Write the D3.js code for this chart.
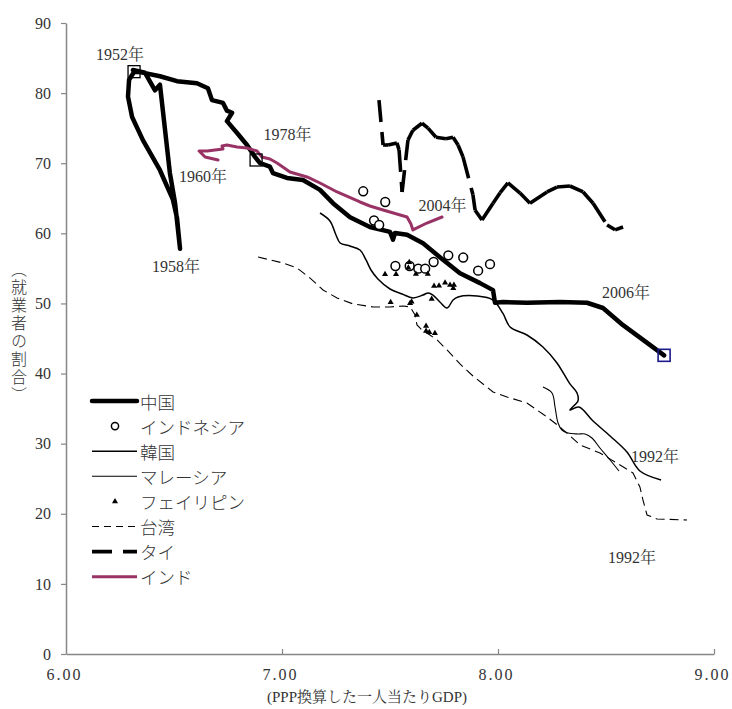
<!DOCTYPE html>
<html><head><meta charset="utf-8">
<script src="https://cdn.jsdelivr.net/npm/d3@7"></script>
<style>
body{margin:0;background:#fff}
svg{display:block;background:#fff}
text{font-family:"Liberation Serif","Noto Serif CJK JP","Noto Sans CJK JP",serif;fill:#333}
</style>
</head><body>
<svg id="c" width="732" height="709"></svg>
<script>
// ---------- data ----------
const xTicks = [6, 7, 8, 9];
const yTicks = [0, 10, 20, 30, 40, 50, 60, 70, 80, 90];
const xTitle = "(PPP換算した一人当たりGDP)";
const yTitle = "︵就業者の割合︶";
const seriesNames = ["中国", "インドネシア", "韓国", "マレーシア", "フェイリピン", "台湾", "タイ", "インド"];

const china = [[6.31,83.3],[6.366,82.9],[6.412,80.4],[6.435,81.2],[6.481,68.6],[6.505,64.3],[6.528,57.8],
  [6.514,62.2],[6.495,64.8],[6.435,69.0],[6.356,73.3],[6.306,76.6],[6.287,79.5],[6.292,81.9],[6.315,83.0],
  [6.343,83.0],[6.435,82.4],[6.514,81.7],[6.606,81.4],[6.657,80.7],[6.676,79.0],[6.727,78.6],[6.745,77.5],
  [6.769,77.2],[6.745,76.0],[6.792,74.3],[6.838,72.6],[6.875,70.9],[6.898,70.0],[6.944,69.5],[6.958,68.6],
  [7.023,67.9],[7.097,67.6],[7.176,66.2],[7.236,64.3],[7.315,62.3],[7.407,60.9],[7.5,60.2],[7.514,59.1],
  [7.523,60.05],[7.579,59.8],[7.653,58.6],[7.731,56.6],[7.824,54.3],[7.917,52.9],[7.977,51.9],[7.986,50.1],
  [8.023,50.2],[8.134,50.1],[8.287,50.2],[8.412,50.1],[8.486,49.35],[8.579,46.9],[8.769,42.6]];
const chinaMarks = [[6.315,83.06],[6.88,70.46]];
const chinaEnd = [[8.769,42.6]];

const indonesia = [[7.376,66.0],[7.478,64.47],[7.426,61.83],[7.45,61.19],[7.525,55.34],[7.591,55.34],
  [7.631,54.96],[7.663,54.96],[7.702,55.91],[7.77,56.87],[7.839,56.55],[7.908,54.67],[7.963,55.6]];

const korea = [[7.176,62.9],[7.222,61.76],[7.25,59.76],[7.269,58.62],[7.315,58.19],[7.361,57.62],[7.389,56.2],
  [7.412,54.77],[7.444,53.49],[7.5,52.06],[7.556,51.35],[7.606,50.78],[7.653,51.2],[7.676,51.49],[7.699,51.2],
  [7.731,50.21],[7.764,49.35],[7.792,50.49],[7.815,50.92],[7.903,51.06],[7.977,50.49],[8.023,48.57],
  [8.056,46.64],[8.134,45.5],[8.208,43.79],[8.273,41.51],[8.333,38.52],[8.366,37.23],[8.37,36.09],
  [8.333,34.8],[8.375,35.23],[8.44,33.23],[8.519,31.09],[8.597,28.81],[8.657,26.1],[8.755,24.82]];

const malaysia = [[8.208,38.08],[8.25,37.23],[8.264,35.23],[8.278,32.95],[8.296,31.95],[8.324,31.52],
  [8.37,31.38],[8.403,31.38],[8.435,30.81],[8.472,29.38],[8.519,27.67],[8.56,26.1]];

const philippines = [[7.477,54.16],[7.528,54.16],[7.589,55.87],[7.585,55.1],[7.62,54.2],[7.675,54.2],
  [7.704,52.49],[7.727,52.53],[7.755,52.96],[7.778,52.63],[7.796,52.63],[7.793,52.16],[7.693,50.63],
  [7.6,50.25],[7.593,50.02],[7.503,50.16],[7.624,48.35],[7.667,46.78],[7.667,46.07],[7.682,45.89],[7.708,45.74]];

const taiwan = [[6.889,56.62],[7.005,55.77],[7.069,55.06],[7.13,53.62],[7.19,51.92],[7.255,50.78],[7.329,49.93],
  [7.421,49.5],[7.5,49.5],[7.56,49.64],[7.593,49.5],[7.616,48.36],[7.625,46.93],[7.648,46.21],[7.685,45.5],
  [7.718,44.79],[7.764,43.37],[7.824,41.37],[7.884,39.65],[7.977,37.37],[8.042,36.66],[8.134,35.8],
  [8.227,33.8],[8.287,32.38],[8.38,29.81],[8.472,28.67],[8.565,26.96],[8.625,25.82],[8.657,23.82],
  [8.671,21.97],[8.69,19.83],[8.736,19.26],[8.875,19.11]];

const thailand = [[7.449,79.0],[7.468,72.6],[7.491,72.6],[7.532,72.9],[7.542,71.9],[7.556,65.9],[7.583,73.3],
  [7.606,74.7],[7.648,75.7],[7.676,75.0],[7.713,73.7],[7.759,73.5],[7.792,73.7],[7.815,72.6],[7.838,70.9],
  [7.884,65.5],[7.894,63.3],[7.926,61.9],[7.977,64.3],[8.01,65.8],[8.046,67.2],[8.102,65.75],[8.148,64.3],
  [8.227,65.9],[8.273,66.6],[8.333,66.75],[8.394,65.9],[8.44,64.3],[8.505,61.2],[8.542,60.5],[8.579,60.9]];

const india = [[6.704,70.46],[6.644,70.89],[6.616,71.74],[6.653,71.74],[6.727,72.03],[6.722,72.46],[6.745,72.6],
  [6.792,72.32],[6.838,72.17],[6.884,71.74],[6.907,70.89],[6.944,70.6],[6.977,70.03],[7.037,68.75],[7.116,68.04],
  [7.176,67.18],[7.255,65.9],[7.361,64.47],[7.407,63.9],[7.468,63.33],[7.579,62.33],[7.597,61.33],[7.606,60.48],
  [7.671,61.47],[7.741,62.33]];

const yearLabels = [
  ["1952年", 6.25, 85.5], ["1958年", 6.509, 55.24], ["1960年", 6.634, 68.08], ["1978年", 7.025, 74.03],
  ["2004年", 7.743, 64.04], ["2006年", 8.593, 51.59], ["1992年", 8.727, 28.14], ["1992年", 8.62, 13.7]];

// ---------- chart ----------
const svg = d3.select("#c");
const x = d3.scaleLinear().domain([6, 9]).range([66, 714]);
const y = d3.scaleLinear().domain([0, 90]).range([654, 23]);
const axisColor = "#868686";

// y axis
const ya = svg.append("g").attr("transform", "translate(66,0)")
  .call(d3.axisLeft(y).tickValues(yTicks).tickSize(5).tickPadding(10).tickSizeOuter(0).tickFormat(d3.format("d")));
// x axis
const xa = svg.append("g").attr("transform", "translate(0,654)")
  .call(d3.axisBottom(x).tickValues(xTicks).tickSize(-5).tickPadding(15).tickSizeOuter(0).tickFormat(d3.format(".2f")));
[ya, xa].forEach(a => {
  a.select(".domain").attr("stroke", axisColor).attr("stroke-width", 1.5);
  a.selectAll(".tick line").attr("stroke", axisColor).attr("stroke-width", 1.2);
  a.selectAll(".tick text").attr("fill", "#333").style("font-size", "16px")
    .style("font-family", "'Liberation Serif',serif");
});
xa.selectAll(".tick text").style("letter-spacing", "2px").attr("dx", "-2");
xa.selectAll(".tick").filter(d => d === 6).select("line").remove();

// axis titles
svg.append("text").attr("x", 367).attr("y", 702).attr("text-anchor", "middle")
  .style("font-size", "15px").text(xTitle);
svg.append("text").attr("x", 19).attr("y", 333).attr("text-anchor", "middle")
  .style("writing-mode", "vertical-rl").style("font-size", "16px").style("letter-spacing", "2px")
  .style("font-family", "'Noto Sans CJK JP',sans-serif").style("font-weight", "300").text(yTitle);

const line = d3.line().x(d => x(d[0])).y(d => y(d[1]));
const g = svg.append("g");

// 中国
g.append("path").datum(china).attr("d", line).attr("fill", "none").attr("stroke", "#000")
  .attr("stroke-width", 4.5).attr("stroke-linejoin", "round").attr("stroke-linecap", "round");
// インドネシア
g.selectAll(".ido").data(indonesia).join("circle").attr("cx", d => x(d[0])).attr("cy", d => y(d[1]))
  .attr("r", 4.4).attr("fill", "#fff").attr("stroke", "#000").attr("stroke-width", 1.5);
// 韓国
g.append("path").datum(korea).attr("d", line.curve(d3.curveCatmullRom)).attr("fill", "none")
  .attr("stroke", "#000").attr("stroke-width", 1.5);
// マレーシア
g.append("path").datum(malaysia).attr("d", line.curve(d3.curveCatmullRom)).attr("fill", "none")
  .attr("stroke", "#000").attr("stroke-width", 1.1);
line.curve(d3.curveLinear);
// フェイリピン
const tri = d3.symbol().type(d3.symbolTriangle).size(16);
g.selectAll(".phl").data(philippines).join("path").attr("d", tri)
  .attr("transform", d => `translate(${x(d[0])},${y(d[1])})`).attr("fill", "#000");
// 台湾
g.append("path").datum(taiwan).attr("d", line).attr("fill", "none").attr("stroke", "#000")
  .attr("stroke-width", 1.1).attr("stroke-dasharray", "9,5");
// タイ (dash pattern restarts on every segment)
g.selectAll(".thai").data(d3.pairs(thailand)).join("path").attr("d", d => line(d))
  .attr("fill", "none").attr("stroke", "#000").attr("stroke-width", 3.6).attr("stroke-dasharray", "22,10");
// インド
g.append("path").datum(india).attr("d", line).attr("fill", "none").attr("stroke", "#993366")
  .attr("stroke-width", 3).attr("stroke-linejoin", "round").attr("stroke-linecap", "round");

// squares
g.selectAll(".sq").data(chinaMarks).join("rect").attr("x", d => x(d[0]) - 6).attr("y", d => y(d[1]) - 6)
  .attr("width", 12).attr("height", 12).attr("fill", "none").attr("stroke", "#000").attr("stroke-width", 1.3);
g.selectAll(".sq2").data(chinaEnd).join("rect").attr("x", d => x(d[0]) - 6).attr("y", d => y(d[1]) - 6)
  .attr("width", 12).attr("height", 12).attr("fill", "none").attr("stroke", "#1a1a8c").attr("stroke-width", 1.6);

// year labels
svg.selectAll(".yl").data(yearLabels).join("text").attr("x", d => x(d[1])).attr("y", d => y(d[2]))
  .attr("text-anchor", "middle").attr("dominant-baseline", "central").style("font-size", "16px")
  .text(d => d[0]);

// legend
const lg = svg.append("g");
const ly = i => 401 + i * 25.1;
const lx0 = 92, lx1 = 137, ltx = 140;
const styles = [
  {w: 4.5}, {marker: "circle"}, {w: 1.5}, {w: 1.1}, {marker: "tri"},
  {w: 1.1, dash: "7,5"}, {w: 3.6, dash: "20,11"}, {w: 3, color: "#993366"}];
seriesNames.forEach((name, i) => {
  const s = styles[i];
  if (s.marker === "circle") {
    lg.append("circle").attr("cx", 115).attr("cy", ly(i)).attr("r", 3.6).attr("fill", "#fff")
      .attr("stroke", "#000").attr("stroke-width", 1.5);
  } else if (s.marker === "tri") {
    lg.append("path").attr("d", tri).attr("transform", `translate(115,${ly(i)})`).attr("fill", "#000");
  } else {
    lg.append("line").attr("x1", lx0).attr("x2", lx1).attr("y1", ly(i)).attr("y2", ly(i))
      .attr("stroke", s.color || "#000").attr("stroke-width", s.w).attr("stroke-dasharray", s.dash || null)
      .attr("stroke-linecap", s.w > 4 ? "round" : "butt");
  }
  lg.append("text").attr("x", ltx).attr("y", ly(i)).attr("dominant-baseline", "central")
    .style("font-size", "17.5px").style("font-family", "'Noto Sans CJK JP',sans-serif")
    .style("font-weight", "300").text(name);
});
</script>
</body></html>
